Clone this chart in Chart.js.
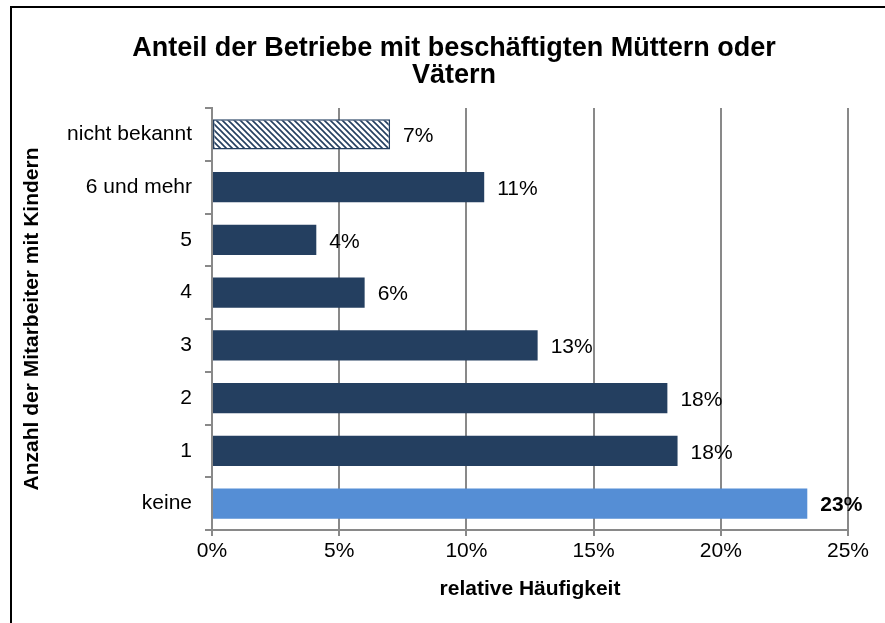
<!DOCTYPE html>
<html>
<head>
<meta charset="utf-8">
<script src="https://cdn.jsdelivr.net/npm/chart.js@4.4.1/dist/chart.umd.min.js"></script>
<style>
  body { margin: 0; background: #fff; }
  #wrap { position: relative; width: 885px; height: 623px; }
  #frame { position: absolute; left: 10px; top: 6px; right: 0; bottom: 0; border-top: 2px solid #000; border-left: 2px solid #000; }
  #chart { position: absolute; left: 0; top: 0; }
</style>
</head>
<body>
<div id="wrap">
  <div id="frame"></div>
  <canvas id="chart" width="885" height="623"></canvas>
</div>
<script>
const categories = ["nicht bekannt", "6 und mehr", "5", "4", "3", "2", "1", "keine"];
const shares = [7.0, 10.7, 4.1, 6.0, 12.8, 17.9, 18.3, 23.4];
const shareLabels = ["7%", "11%", "4%", "6%", "13%", "18%", "18%", "23%"];
const boldLabel = [false, false, false, false, false, false, false, true];

const fontFamily = "'Liberation Sans', Arial, sans-serif";
const navy = "#243f60";
const lightBlue = "#558ed5";
const gridGray = "#898989";

// diagonal hatch for "nicht bekannt"
function makeHatch() {
  const c = document.createElement("canvas");
  c.width = 6;
  c.height = 6;
  const g = c.getContext("2d");
  g.fillStyle = "#fff";
  g.fillRect(0, 0, 6, 6);
  g.strokeStyle = navy;
  g.lineWidth = 1.6;
  g.beginPath();
  g.moveTo(-1, -1); g.lineTo(7, 7);
  g.moveTo(-4, 2); g.lineTo(4, 10);
  g.moveTo(2, -4); g.lineTo(10, 4);
  g.stroke();
  return g.createPattern(c, "repeat");
}

const ctx = document.getElementById("chart").getContext("2d");
const colors = categories.map((c, i) => i === 0 ? makeHatch() : (i === categories.length - 1 ? lightBlue : navy));

const valueLabels = {
  id: "valueLabels",
  afterDatasetsDraw(chart) {
    const c = chart.ctx;
    const meta = chart.getDatasetMeta(0);
    c.save();
    c.fillStyle = "#000";
    c.textBaseline = "middle";
    c.textAlign = "left";
    meta.data.forEach((bar, i) => {
      c.font = (boldLabel[i] ? "bold " : "") + "21px " + fontFamily;
      c.fillText(shareLabels[i], bar.x + 13, bar.y + 2);
    });
    c.restore();
  }
};

new Chart(ctx, {
  type: "bar",
  data: {
    labels: categories,
    datasets: [{
      data: shares,
      backgroundColor: colors,
      borderColor: navy,
      borderWidth: categories.map((c, i) => i === 0 ? 1.5 : 0),
      borderSkipped: false,
      barPercentage: 0.57,
      categoryPercentage: 1
    }]
  },
  options: {
    indexAxis: "y",
    responsive: false,
    animation: false,
    devicePixelRatio: 1,
    layout: { padding: { left: 60, right: 37, top: 0, bottom: 0 } },
    plugins: {
      legend: { display: false },
      tooltip: { enabled: false },
      title: {
        display: true,
        text: ["Anteil der Betriebe mit beschäftigten Müttern oder", "Vätern"],
        color: "#000",
        font: { family: fontFamily, size: 27, weight: "bold", lineHeight: 1.0 },
        padding: { top: 35, bottom: 19 }
      }
    },
    scales: {
      x: {
        min: 0,
        max: 25,
        ticks: {
          stepSize: 5,
          color: "#000",
          padding: 3,
          font: { family: fontFamily, size: 21 },
          callback: v => v + "%"
        },
        grid: { color: gridGray, lineWidth: 2, tickLength: 6 },
        border: { color: gridGray, width: 2 },
        title: {
          display: true,
          text: "relative Häufigkeit",
          color: "#000",
          font: { family: fontFamily, size: 21, weight: "bold" },
          padding: { top: 0, bottom: 21 }
        },
        afterFit(scale) { scale.height = 93; }
      },
      y: {
        ticks: {
          color: "#000",
          padding: 13,
          font: { family: fontFamily, size: 21 }
        },
        grid: { color: gridGray, lineWidth: 2, tickLength: 7, drawOnChartArea: false, offset: true },
        border: { color: gridGray, width: 2 },
        title: {
          display: true,
          text: "Anzahl der Mitarbeiter mit Kindern",
          color: "#000",
          font: { family: fontFamily, size: 21, weight: "bold" },
          padding: { top: -40, bottom: 0 }
        },
        afterFit(scale) { scale.width = 152; }
      }
    }
  },
  plugins: [valueLabels]
});
</script>
</body>
</html>
